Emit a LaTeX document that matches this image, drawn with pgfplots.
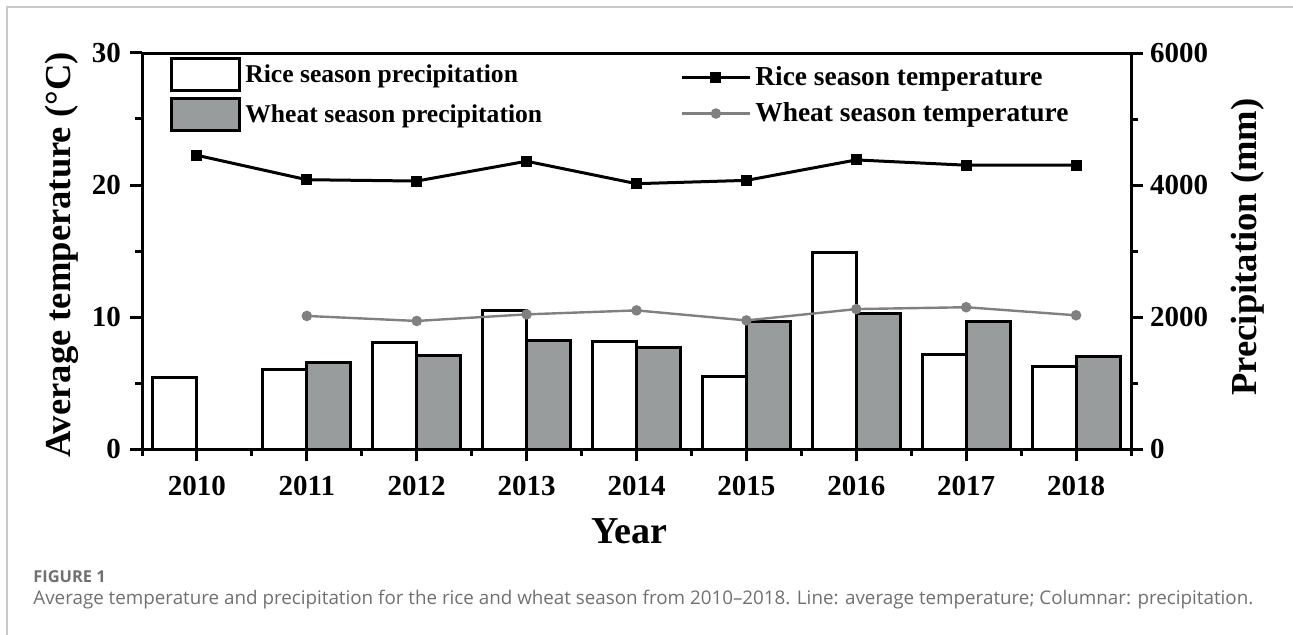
\documentclass[border=0pt]{standalone}
\usepackage{fontspec}
\setmainfont{Liberation Serif}
\newfontfamily\capfont{Open Sans}
\usepackage{pgfplots}
\pgfplotsset{compat=1.18}
\definecolor{barGray}{RGB}{153,156,156}
\definecolor{lineGray}{RGB}{128,128,128}
\definecolor{capGray}{RGB}{112,112,112}
\definecolor{frameGray}{RGB}{200,200,200}
\begin{document}
\begin{tikzpicture}
\path[use as bounding box] (0,0) rectangle (646.5pt,-317.5pt);
\draw[frameGray, line width=0.8pt] (3.6pt,-317.5pt) -- (3.6pt,-3.6pt) -- (646.5pt,-3.6pt);
% precipitation axis (bars) with box
\begin{axis}[
  at={(71pt,-224.5pt)}, anchor=south west,
  scale only axis, width=494.5pt, height=198pt,
  xmin=-0.5, xmax=8.5, ymin=0, ymax=6000,
  axis line style={line width=1.5pt},
  every tick/.style={line width=1.5pt, black},
  tick align=outside,
  major tick length=6pt, minor tick length=3.5pt,
  xtick={0,...,8},
  xticklabels={2010,2011,2012,2013,2014,2015,2016,2017,2018},
  minor xtick={-0.5,0.5,...,8.5},
  xtick pos=bottom,
  ytick={0,2000,4000,6000},
  minor ytick={1000,3000,5000},
  ytick pos=right, yticklabel pos=right,
  scaled ticks=false,
  /pgf/number format/1000 sep={},
  /pgf/number format/assume math mode=true,
  tick label style={font=\fontsize{14.5}{17}\selectfont\bfseries},
  xticklabel style={yshift=-4pt},
  yticklabel style={xshift=0pt},
  xlabel={Year},
  xlabel style={font=\fontsize{19}{22}\selectfont\bfseries, at={(axis description cs:0.4924,-0.207)}, anchor=center},
  ylabel={Precipitation (mm)},
  ylabel style={font=\fontsize{18.3}{22}\selectfont\bfseries, at={(axis description cs:1.1183,0.51)}, anchor=center},
  legend style={at={(rel axis cs:0.0283,0.99)}, anchor=north west, draw=none, fill=none, inner sep=0pt,
    font=\fontsize{12.8}{15}\selectfont\bfseries, row sep=2.5pt,
    /tikz/every even column/.append style={column sep=0pt}},
  legend cell align=left,
  legend image code/.code={\draw[#1] (0pt,-8pt) rectangle (34pt,8pt);},
]
\addplot[ybar, bar width=0.4, bar shift=-0.2, fill=white, draw=black, line width=1.5pt]
  coordinates {(0,1087) (1,1204) (2,1607) (3,2092) (4,1622) (5,1102) (6,2974) (7,1439) (8,1255)};
\addlegendentry{Rice season precipitation}
\addplot[ybar, bar width=0.4, bar shift=0.2, fill=barGray, draw=black, line width=1.5pt]
  coordinates {(1,1306) (2,1413) (3,1638) (4,1536) (5,1929) (6,2051) (7,1939) (8,1408)};
\addlegendentry{Wheat season precipitation}
\end{axis}
% temperature axis (lines)
\begin{axis}[
  at={(71pt,-224.5pt)}, anchor=south west,
  scale only axis, width=494.5pt, height=198pt,
  xmin=-0.5, xmax=8.5, ymin=0, ymax=30,
  axis x line=none,
  axis y line*=left,
  axis line style={line width=1.5pt},
  every tick/.style={line width=1.5pt, black},
  tick align=outside,
  major tick length=6pt, minor tick length=3.5pt,
  ytick={0,10,20,30},
  minor ytick={5,15,25},
  /pgf/number format/assume math mode=true,
  tick label style={font=\fontsize{14.5}{17}\selectfont\bfseries},
  yticklabel style={xshift=-1pt},
  ylabel={Average temperature (\textdegree C)},
  ylabel style={font=\fontsize{18.3}{22}\selectfont\bfseries, at={(axis description cs:-0.0809,0.49)}, anchor=center},
  legend style={at={(rel axis cs:0.544,0.977)}, anchor=north west, draw=none, fill=none, inner sep=0pt,
    font=\fontsize{13.7}{16}\selectfont\bfseries, row sep=3pt},
  legend cell align=left,
  legend image code/.code={\draw[mark repeat=2, mark phase=2, #1] plot coordinates {(0pt,0pt) (17pt,0pt) (34pt,0pt)};},
]
\addplot[black, line width=1.5pt, mark=square*, mark size=2pt, mark options={solid}]
  coordinates {(0,22.25) (1,20.4) (2,20.3) (3,21.8) (4,20.1) (5,20.35) (6,21.9) (7,21.5) (8,21.5)};
\addlegendentry{Rice season temperature}
\addplot[lineGray, line width=1.2pt, mark=*, mark size=2pt]
  coordinates {(1,10.08) (2,9.7) (3,10.2) (4,10.5) (5,9.74) (6,10.6) (7,10.74) (8,10.13)};
\addlegendentry{Wheat season temperature}
\end{axis}
\node[anchor=west, inner sep=0pt, text=capGray, font=\capfont\bfseries\fontsize{8.2}{10}\selectfont] at (16.5pt,-288.5pt) {FIGURE 1};
\node[anchor=west, inner sep=0pt, text=capGray, font=\capfont\fontsize{9.4}{11}\selectfont] at (16.5pt,-300pt) {Average temperature and precipitation for the rice and wheat season from 2010–2018. Line: average temperature; Columnar: precipitation.};
\end{tikzpicture}
\end{document}
